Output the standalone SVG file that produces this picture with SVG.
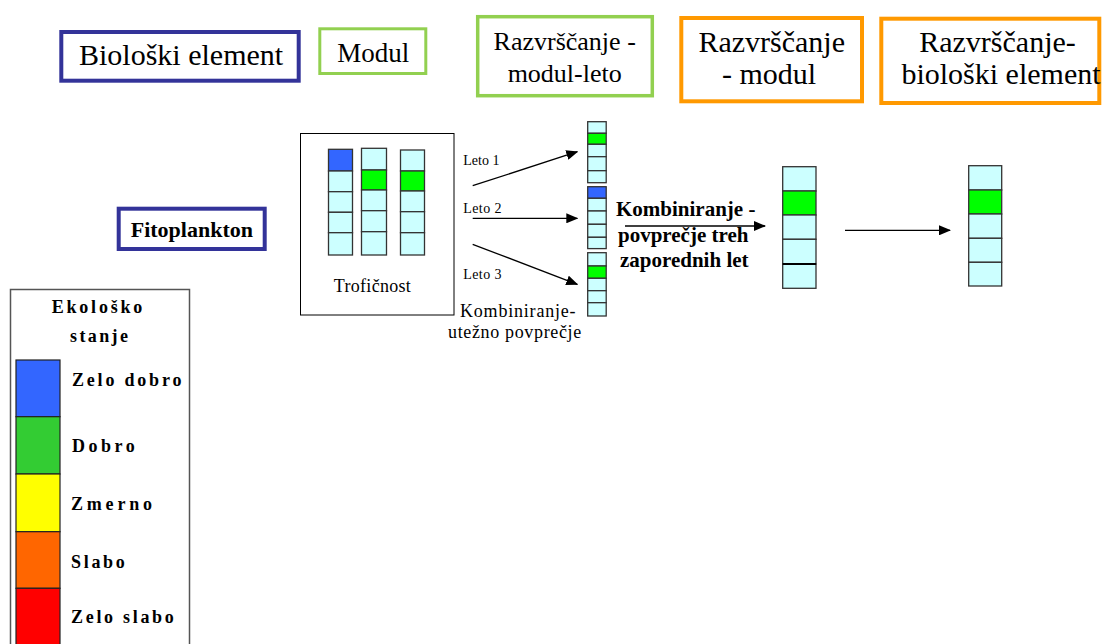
<svg xmlns="http://www.w3.org/2000/svg" width="1103" height="644" viewBox="0 0 1103 644">
<defs>
<marker id="ah" viewBox="0 0 12 10" refX="11" refY="5" markerWidth="12" markerHeight="10" markerUnits="userSpaceOnUse" orient="auto">
<path d="M0,0 L12,5 L0,10 z" fill="#000"/>
</marker>
</defs>
<rect width="1103" height="644" fill="#fff"/>
<g font-family="Liberation Serif" fill="#000">
<g id="hdr-bioloski">
<rect x="61.3" y="32" width="237.4" height="48.7" fill="#fff" stroke="#333399" stroke-width="4"/>
<text font-family="Liberation Serif" style="font-family:'Liberation Serif',serif !important" font-size="30" x="79" y="65">Biološki element</text>
</g>
<g id="hdr-modul">
<rect x="319.8" y="28.8" width="106" height="44.7" fill="#fff" stroke="#92D050" stroke-width="3"/>
<text font-family="Liberation Serif" style="font-family:'Liberation Serif',serif !important" font-size="27" x="337.3" y="61.7">Modul</text>
</g>
<g id="hdr-razv-modul-leto">
<rect x="477.7" y="16.7" width="174.6" height="79" fill="#fff" stroke="#92D050" stroke-width="3.5"/>
<text font-family="Liberation Serif" style="font-family:'Liberation Serif',serif !important" font-size="26" text-anchor="middle" x="564.7" y="50">Razvrščanje -</text>
<text font-family="Liberation Serif" style="font-family:'Liberation Serif',serif !important" font-size="26" text-anchor="middle" x="564.7" y="81.7">modul-leto</text>
</g>
<g id="hdr-razv-modul">
<rect x="681.3" y="18" width="180.7" height="83.3" fill="#fff" stroke="#FF9900" stroke-width="4"/>
<text font-family="Liberation Serif" style="font-family:'Liberation Serif',serif !important" font-size="30" text-anchor="middle" x="771.7" y="51.7">Razvrščanje</text>
<text font-family="Liberation Serif" style="font-family:'Liberation Serif',serif !important" font-size="30" text-anchor="middle" x="769" y="84">- modul</text>
</g>
<g id="hdr-razv-bio">
<rect x="881.3" y="18.7" width="218" height="84.3" fill="#fff" stroke="#FF9900" stroke-width="4"/>
<text font-family="Liberation Serif" style="font-family:'Liberation Serif',serif !important" font-size="30" text-anchor="middle" x="997.5" y="51.7">Razvrščanje-</text>
<text font-family="Liberation Serif" style="font-family:'Liberation Serif',serif !important" font-size="30" text-anchor="middle" x="1001" y="84">biološki element</text>
</g>

<g id="fitoplankton">
<rect x="118.7" y="208.7" width="146" height="40.3" fill="#fff" stroke="#333399" stroke-width="4"/>
<text font-family="Liberation Serif" style="font-family:'Liberation Serif',serif !important" font-size="22" font-weight="bold" x="130.7" y="236.7">Fitoplankton</text>
</g>

<g id="troficnost">
<rect x="300.5" y="133.5" width="153.5" height="181.5" fill="#fff" stroke="#000" stroke-width="1"/>
<g fill="#CCFFFF" stroke="#333" stroke-width="1.3">
<rect fill="#3366FF" x="328.5" y="149.3" width="24" height="21.7"/>
<rect x="328.5" y="171" width="24" height="20.7"/>
<rect x="328.5" y="191.7" width="24" height="20.6"/>
<rect x="328.5" y="212.3" width="24" height="20.4"/>
<rect x="328.5" y="232.7" width="24" height="22.3"/>
<rect x="361.5" y="148.3" width="25" height="21.7"/>
<rect fill="#00FF00" x="361.5" y="170" width="25" height="20"/>
<rect x="361.5" y="190" width="25" height="20.7"/>
<rect x="361.5" y="210.7" width="25" height="21"/>
<rect x="361.5" y="231.7" width="25" height="23.3"/>
<rect x="400.5" y="150" width="24" height="21"/>
<rect fill="#00FF00" x="400.5" y="171" width="24" height="20"/>
<rect x="400.5" y="191" width="24" height="20.7"/>
<rect x="400.5" y="211.7" width="24" height="21"/>
<rect x="400.5" y="232.7" width="24" height="22.3"/>
</g>
<text font-family="Liberation Serif" style="font-family:'Liberation Serif',serif !important" font-size="18" letter-spacing="0.3" text-anchor="middle" x="372.5" y="291.7">Trofičnost</text>
</g>

<g id="modul-leto" fill="#CCFFFF" stroke="#333" stroke-width="1.3">
<rect x="587.7" y="121.7" width="18.5" height="11.6"/>
<rect fill="#00FF00" x="587.7" y="133.3" width="18.5" height="11"/>
<rect x="587.7" y="144.3" width="18.5" height="12.4"/>
<rect x="587.7" y="156.7" width="18.5" height="14"/>
<rect x="587.7" y="170.7" width="18.5" height="12"/>
<rect fill="#3366FF" x="587.7" y="186.7" width="18.5" height="11.6"/>
<rect x="587.7" y="198.3" width="18.5" height="12.7"/>
<rect x="587.7" y="211" width="18.5" height="13.3"/>
<rect x="587.7" y="224.3" width="18.5" height="13"/>
<rect x="587.7" y="237.3" width="18.5" height="11.3"/>
<rect x="587.7" y="252.7" width="18.5" height="13.3"/>
<rect fill="#00FF00" x="587.7" y="266" width="18.5" height="12.3"/>
<rect x="587.7" y="278.3" width="18.5" height="12.4"/>
<rect x="587.7" y="290.7" width="18.5" height="12"/>
<rect x="587.7" y="302.7" width="18.5" height="13.3"/>
</g>

<g id="modul-col" fill="#CCFFFF" stroke="#333" stroke-width="1.3">
<rect x="782.7" y="166.7" width="33.3" height="24.3"/>
<rect fill="#00FF00" x="782.7" y="191" width="33.3" height="24"/>
<rect x="782.7" y="215" width="33.3" height="24.3"/>
<rect x="782.7" y="239.3" width="33.3" height="24.7"/>
<rect x="782.7" y="264" width="33.3" height="24.3"/>
<line x1="782.7" y1="264" x2="816" y2="264" stroke="#000" stroke-width="2.2"/>
</g>

<g id="bio-col" fill="#CCFFFF" stroke="#333" stroke-width="1.3">
<rect x="968.7" y="165.7" width="33" height="24.3"/>
<rect fill="#00FF00" x="968.7" y="190" width="33" height="24"/>
<rect x="968.7" y="214" width="33" height="24.3"/>
<rect x="968.7" y="238.3" width="33" height="24"/>
<rect x="968.7" y="262.3" width="33" height="23.7"/>
</g>

<g id="connectors" stroke="#000" stroke-width="1.3" fill="none" marker-end="url(#ah)">
<line x1="472.7" y1="185.7" x2="577.3" y2="151.7"/>
<line x1="472.7" y1="218.3" x2="577.3" y2="218.3"/>
<line x1="472.7" y1="244.3" x2="577.3" y2="284.3"/>
<line x1="625" y1="226" x2="765" y2="226"/>
<line x1="845" y1="230.3" x2="950" y2="230.3"/>
</g>

<g id="labels">
<text font-family="Liberation Serif" style="font-family:'Liberation Serif',serif !important" font-size="14" x="463.3" y="165">Leto 1</text>
<text font-family="Liberation Serif" style="font-family:'Liberation Serif',serif !important" font-size="14" letter-spacing="0.4" x="463.3" y="213.3">Leto 2</text>
<text font-family="Liberation Serif" style="font-family:'Liberation Serif',serif !important" font-size="14" letter-spacing="0.4" x="463.3" y="279.3">Leto 3</text>
<text font-family="Liberation Serif" style="font-family:'Liberation Serif',serif !important" font-size="18" letter-spacing="0.8" x="460" y="316.7">Kombiniranje-</text>
<text font-family="Liberation Serif" style="font-family:'Liberation Serif',serif !important" font-size="18" letter-spacing="0.65" x="448" y="338">utežno povprečje</text>
<text font-family="Liberation Serif" style="font-family:'Liberation Serif',serif !important" font-size="21" font-weight="bold" x="616" y="216">Kombiniranje -</text>
<text font-family="Liberation Serif" style="font-family:'Liberation Serif',serif !important" font-size="21" font-weight="bold" x="618" y="241.7">povprečje treh</text>
<text font-family="Liberation Serif" style="font-family:'Liberation Serif',serif !important" font-size="21" font-weight="bold" x="620" y="266.7">zaporednih let</text>
</g>

<g id="legend">
<rect x="10.5" y="289.5" width="179" height="400" fill="#fff" stroke="#555" stroke-width="1.5"/>
<text font-family="Liberation Serif" style="font-family:'Liberation Serif',serif !important" font-size="18" font-weight="bold" letter-spacing="2.8" x="51.7" y="313.3">Ekološko</text>
<text font-family="Liberation Serif" style="font-family:'Liberation Serif',serif !important" font-size="18" font-weight="bold" letter-spacing="2.4" x="70" y="341.7">stanje</text>
<g stroke="#222" stroke-width="1.2">
<rect x="16" y="360" width="44" height="56.7" fill="#3366FF"/>
<rect x="16" y="416.7" width="44" height="57.3" fill="#33CC33"/>
<rect x="16" y="474" width="44" height="57.7" fill="#FFFF00"/>
<rect x="16" y="531.7" width="44" height="56.6" fill="#FF6600"/>
<rect x="16" y="588.3" width="44" height="70" fill="#FF0000"/>
</g>
<text font-family="Liberation Serif" style="font-family:'Liberation Serif',serif !important" font-size="18" font-weight="bold" letter-spacing="2.8" x="72" y="386">Zelo dobro</text>
<text font-family="Liberation Serif" style="font-family:'Liberation Serif',serif !important" font-size="18" font-weight="bold" letter-spacing="3.5" x="72" y="451.7">Dobro</text>
<text font-family="Liberation Serif" style="font-family:'Liberation Serif',serif !important" font-size="18" font-weight="bold" letter-spacing="3.8" x="71" y="510">Zmerno</text>
<text font-family="Liberation Serif" style="font-family:'Liberation Serif',serif !important" font-size="18" font-weight="bold" letter-spacing="2.7" x="71" y="568.3">Slabo</text>
<text font-family="Liberation Serif" style="font-family:'Liberation Serif',serif !important" font-size="18" font-weight="bold" letter-spacing="2.7" x="71" y="623.3">Zelo slabo</text>
</g>
</g>
</svg>
